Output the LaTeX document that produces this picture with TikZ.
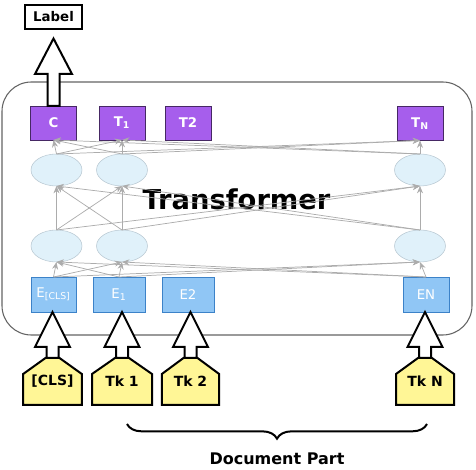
\documentclass[tikz,border=0pt]{standalone}
\usepackage{fontspec}
\setmainfont{DejaVu Sans}
\usepackage{tikz}
\usetikzlibrary{shapes.geometric,arrows.meta,calc,decorations.pathreplacing,backgrounds}
\definecolor{outpurple}{RGB}{166,94,236}
\definecolor{outborder}{RGB}{70,40,100}
\definecolor{embblue}{RGB}{144,198,245}
\definecolor{embborder}{RGB}{60,130,200}
\definecolor{hidfill}{RGB}{224,241,250}
\definecolor{hidborder}{RGB}{185,200,210}
\definecolor{tokyellow}{RGB}{255,246,150}
\definecolor{framegray}{RGB}{100,100,100}
\tikzset{
    outbox/.style={draw=outborder, fill=outpurple, text=white, font=\bfseries\fontsize{10}{12}\selectfont,
                   minimum width=34.5pt, minimum height=25.5pt, inner sep=0pt, outer sep=0pt},
    embbox/.style={draw=embborder, fill=embblue, text=white, font=\fontsize{10}{12}\selectfont,
                   minimum height=26.25pt, inner sep=0pt, outer sep=0pt},
    hidden/.style={draw=hidborder, fill=hidfill, ellipse, minimum width=38.25pt, minimum height=24pt,
                   inner sep=0pt, outer sep=0pt},
    tokennode/.style={font=\bfseries\fontsize{10.5}{12}\selectfont, minimum height=35.25pt, inner sep=0pt, outer sep=0pt},
    tokenshape/.style={draw, fill=tokyellow, line width=1.5pt},
    hollow/.style={draw, fill=white, line width=1.5pt},
    conn/.style={draw=gray!65, line width=0.55pt, -{Stealth[length=5.5pt,width=4.5pt]}},
    brace/.style={decorate, decoration={brace, mirror, amplitude=11pt}, line width=1.5pt},
}

\begin{document}
\begin{tikzpicture}[x=0.75pt, y=-0.75pt]
    \useasboundingbox (0,0) rectangle (476,470);

    % Transformer frame
    \draw[framegray, line width=0.8pt, rounded corners=22pt] (2,82) rectangle (472,335);
    \node[font=\bfseries\fontsize{20.5}{24}\selectfont] (trans) at (236.5,199) {Transformer};

    % Output layer
    \node[outbox] (C) at (53.5,123) {C};
    \node[outbox] (T1) at (122,123) {T\textsubscript{1}};
    \node[outbox] (T2) at (188,123) {T2};
    \node[outbox] (TN) at (420,123.5) {T\textsubscript{N}};

    % Hidden states
    \node[hidden] (Ucls) at (56.5,170) {};
    \node[hidden] (U1) at (122,170) {};
    \node[hidden] (UN) at (420,170) {};
    \node[hidden] (Lcls) at (56.5,246) {};
    \node[hidden] (L1) at (122,246) {};
    \node[hidden] (LN) at (420,246) {};

    % Embeddings
    \node[embbox, minimum width=34pt] (Ecls) at (53.5,294.5) {E\textsubscript{[CLS]}};
    \node[embbox, minimum width=39pt] (E1) at (119,294.5) {E\textsubscript{1}};
    \node[embbox, minimum width=39pt] (E2) at (188,294.5) {E2};
    \node[embbox, minimum width=34.5pt] (EN) at (426,294.5) {EN};

    % Attention connections
    \foreach \s in {Ecls,E1,EN}
        \foreach \t in {Lcls,L1,LN}
            \draw[conn] (\s.north) -- (\t.south);
    \foreach \s in {Lcls,L1,LN}
        \foreach \t in {Ucls,U1,UN}
            \draw[conn] (\s.north) -- (\t.south);
    \foreach \s in {Ucls,U1,UN}
        \foreach \t in {C,T1,TN}
            \draw[conn] (\s.north) -- (\t.south);

    % Input tokens
    \node[tokennode, minimum width=44pt] (tkcls) at (52.5,381.5) {[CLS]};
    \node[tokennode, minimum width=45pt] (tk1) at (122,381.5) {Tk 1};
    \node[tokennode, minimum width=43pt] (tk2) at (190.5,381.5) {Tk 2};
    \node[tokennode, minimum width=43.5pt] (tkN) at (425,381.5) {Tk N};
    \begin{pgfonlayer}{background}
        \foreach \t in {tkcls,tk1,tk2,tkN}
            \draw[tokenshape] (\t.south west) -- ($(\t.north west)+(0,16)$) -- ($(\t.north)+(-7,0)$)
                -- ($(\t.north)+(7,0)$) -- ($(\t.north east)+(0,16)$) -- (\t.south east) -- cycle;
    \end{pgfonlayer}

    % Block arrows into embeddings
    \foreach \tk/\emb in {tkcls/Ecls,tk1/E1,tk2/E2,tkN/EN}
        \draw[hollow] ($(\tk.north)+(-6,0)$) -- ++(0,-11) -- ++(-11.5,0) -- (\tk.north |- \emb.south)
            -- ($(\tk.north)+(17.5,-11)$) -- ++(-11.5,0) -- ($(\tk.north)+(6,0)$) -- cycle;

    % Classification output
    \node[draw, line width=0.8pt, font=\bfseries\fontsize{10}{12}\selectfont, minimum width=42.75pt,
          minimum height=18pt, inner sep=0pt] (label) at (53.5,17) {Label};
    \draw[hollow] ($(C.north)+(-6,0)$) -- ++(0,-32) -- ++(-12.5,0) -- ($(label.south)+(0,9)$)
        -- ($(C.north)+(18.5,-32)$) -- ++(-12.5,0) -- ($(C.north)+(6,0)$) -- cycle;

    % Document part brace
    \draw[brace] ($(tk1.south)+(5,19)$) -- ($(tkN.south)+(2,19)$);
    \node[font=\bfseries\fontsize{12}{14}\selectfont] (docpart) at (277,459) {Document Part};
\end{tikzpicture}
\end{document}
